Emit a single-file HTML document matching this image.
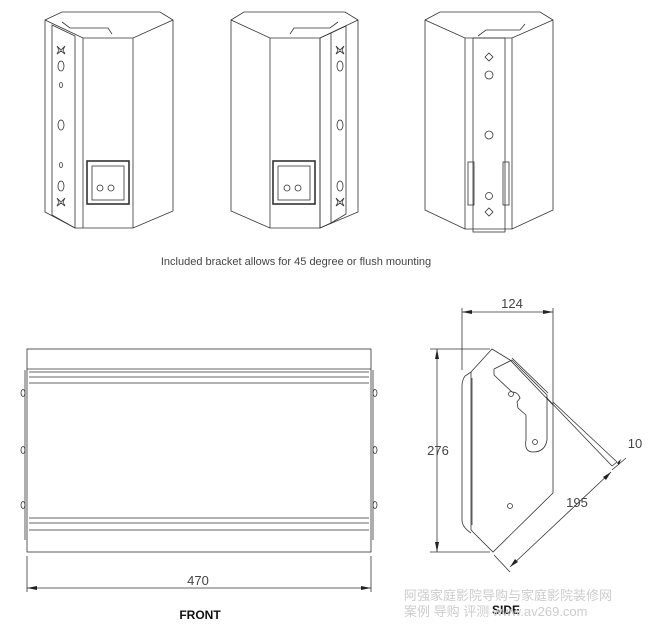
<!DOCTYPE html>
<html><head><meta charset="utf-8"><style>
html,body{margin:0;padding:0;background:#fff;}
svg{display:block}
text{font-family:"Liberation Sans",sans-serif;}
</style></head><body>
<svg width="650" height="642" viewBox="0 0 650 642" xmlns="http://www.w3.org/2000/svg">
<g fill="none" stroke="#333" stroke-width="0.8">
<!-- Speaker 1 -->
<polygon points="45,20 62,12 160,12 173,20 173,211 133,228 75,228 45,212"/>
<polyline points="45,20 83,38 133,38 173,20"/>
<line x1="83" y1="38" x2="83" y2="228"/><line x1="133" y1="38" x2="133" y2="228"/>
<polygon points="52,25 75,36 75,228 52,215"/>
<polyline points="62,22 70,28 108,28 112,34"/>
<rect x="87" y="161" width="42" height="43" stroke-width="1.6"/>
<rect x="92" y="166" width="32" height="34"/>
<circle cx="100" cy="188" r="3"/><circle cx="111" cy="188" r="3"/>
<ellipse cx="61" cy="66" rx="3" ry="5"/><ellipse cx="61" cy="125" rx="3" ry="5"/><ellipse cx="61" cy="186" rx="3" ry="5"/>
<ellipse cx="61" cy="85" rx="1.5" ry="2.5"/><ellipse cx="61" cy="165" rx="1.5" ry="2.5"/>
<path d="M57,46 l4,4 l4,-4 l-2,4 l2,4 l-4,-3 l-4,3 l2,-4z"/><path d="M57,198 l4,4 l4,-4 l-2,4 l2,4 l-4,-3 l-4,3 l2,-4z"/>
<!-- Speaker 2 -->
<polygon points="231,20 244,12 345,12 358,20 358,212 320,228 270,228 231,211"/>
<polyline points="231,20 270,38 320,38 358,20"/>
<line x1="270" y1="38" x2="270" y2="228"/><line x1="320" y1="38" x2="320" y2="228"/>
<polygon points="320,38 331,33 346,26 346,214 331,223 320,228"/>
<line x1="331" y1="33" x2="331" y2="223"/>
<polyline points="290,34 294,28 330,28 338,22"/>
<rect x="273" y="161" width="42" height="43" stroke-width="1.6"/>
<rect x="278" y="166" width="32" height="34"/>
<circle cx="287" cy="188" r="3"/><circle cx="298" cy="188" r="3"/>
<ellipse cx="340" cy="66" rx="3" ry="5"/><ellipse cx="340" cy="125" rx="3" ry="5"/><ellipse cx="340" cy="186" rx="3" ry="5"/>
<path d="M336,46 l4,4 l4,-4 l-2,4 l2,4 l-4,-3 l-4,3 l2,-4z"/><path d="M336,198 l4,4 l4,-4 l-2,4 l2,4 l-4,-3 l-4,3 l2,-4z"/>
<!-- Speaker 3 -->
<polygon points="425,20 440,12 540,12 553,20 553,210 512,229 465,229 425,210"/>
<polyline points="425,20 465,38 512,38 553,20"/>
<line x1="465" y1="38" x2="465" y2="229"/><line x1="512" y1="38" x2="512" y2="229"/>
<rect x="473" y="38" width="32" height="194"/>
<polyline points="478,36 486,30 520,30 525,24"/>
<rect x="468" y="162" width="6" height="43"/><rect x="503" y="162" width="6" height="43"/>
<circle cx="489" cy="75" r="4"/><circle cx="489" cy="135" r="4"/><circle cx="489" cy="196" r="3.5"/>
<path d="M485,57 l4,-4 l4,4 l-4,4z"/><path d="M485,212 l4,-4 l4,4 l-4,4z"/>
<!-- Front view -->
<rect x="27" y="349" width="344" height="203"/>
<line x1="27" y1="369" x2="371" y2="369"/>
<line x1="29" y1="372" x2="369" y2="372"/>
<line x1="29" y1="377" x2="369" y2="377"/>
<line x1="29" y1="383" x2="369" y2="383"/>
<line x1="29" y1="518" x2="369" y2="518"/>
<line x1="29" y1="523" x2="369" y2="523"/>
<line x1="29" y1="530" x2="369" y2="530"/>
<line x1="25" y1="370" x2="25" y2="540"/><line x1="373" y1="370" x2="373" y2="540"/>
<ellipse cx="23" cy="393" rx="2" ry="3.5"/><ellipse cx="23" cy="450" rx="2" ry="3.5"/><ellipse cx="23" cy="505" rx="2" ry="3.5"/>
<ellipse cx="375" cy="393" rx="2" ry="3.5"/><ellipse cx="375" cy="450" rx="2" ry="3.5"/><ellipse cx="375" cy="505" rx="2" ry="3.5"/>
<line x1="27" y1="556" x2="27" y2="592"/><line x1="371" y1="556" x2="371" y2="592"/>
<line x1="27" y1="588" x2="371" y2="588"/>
<!-- Side view -->
<polygon points="492,349 510,360 553,405 553,493 493,552 471,530 471,372"/>
<path d="M471,372 L465,376 Q462,380 462,386 L462,520 Q462,527 471,533"/>
<line x1="472" y1="378" x2="472" y2="525"/>
<path d="M512,360 L547,395 L547,440 Q545,452 533,452 Q524,452 526,440 L526,415 L518,408 L517,402 L520,398 Q518,392 512,392 L494,375 L494,369 Z"/>
<circle cx="511" cy="394" r="2.5"/><circle cx="535" cy="442" r="2.5"/><circle cx="510" cy="506" r="2.5"/>
<line x1="512" y1="358" x2="548" y2="393"/>
<line x1="546" y1="397" x2="612" y2="466"/>
<line x1="553" y1="402" x2="617" y2="462"/>
<line x1="612" y1="466" x2="617" y2="462"/>
<line x1="462" y1="308" x2="462" y2="370"/><line x1="553" y1="308" x2="553" y2="405"/>
<line x1="462" y1="312" x2="553" y2="312"/>
<line x1="430" y1="349" x2="490" y2="349"/><line x1="430" y1="552" x2="490" y2="552"/>
<line x1="437" y1="349" x2="437" y2="552"/>
<line x1="494" y1="555" x2="510" y2="572"/><line x1="510" y1="567" x2="611" y2="472"/>
<line x1="612" y1="470" x2="626" y2="458"/>
</g>
<g fill="#222">
<polygon points="27,588 37,586 37,590"/><polygon points="371,588 361,586 361,590"/>
<polygon points="462,312 472,310 472,314"/><polygon points="553,312 543,310 543,314"/>
<polygon points="437,349 435,359 439,359"/><polygon points="437,552 435,542 439,542"/>
<polygon points="510,567 515,559 518,562"/><polygon points="611,472 603,477 606,480"/>
<polygon points="617,463 621,459 619,465"/>
</g>
<g fill="#444">
<text x="296" y="265" font-size="11" text-anchor="middle">Included bracket allows for 45 degree or flush mounting</text>
<text x="198" y="585" font-size="13" text-anchor="middle">470</text>
<text x="512" y="308" font-size="13" text-anchor="middle">124</text>
<text x="438" y="455" font-size="13" text-anchor="middle">276</text>
<text x="577" y="507" font-size="13" text-anchor="middle">195</text>
<text x="635" y="448" font-size="13" text-anchor="middle">10</text>
</g>
<text x="200" y="619" font-size="12" font-weight="bold" text-anchor="middle" fill="#111">FRONT</text>
<text x="506" y="614" font-size="12" font-weight="bold" text-anchor="middle" fill="#111">SIDE</text>
<g fill="#ccc" font-size="13">
<text x="404" y="600" style="font-family:'Liberation Sans','Noto Sans CJK SC',sans-serif">阿强家庭影院导购与家庭影院装修网</text>
<text x="404" y="616" style="font-family:'Liberation Sans','Noto Sans CJK SC',sans-serif">案例 导购 评测 www.av269.com</text>
</g>
</svg>
</body></html>
